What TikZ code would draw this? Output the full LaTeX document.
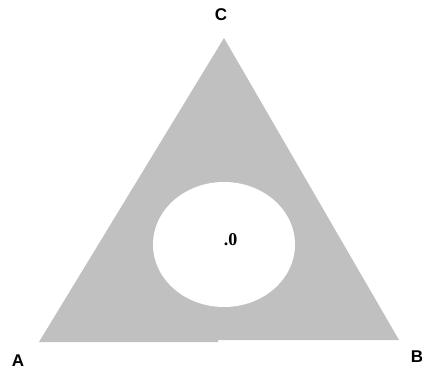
\documentclass[tikz,border=0pt]{standalone}
\usepackage{fontspec}
\setmainfont{Liberation Serif}
\newfontfamily\labelfont{Liberation Sans}
\definecolor{fillgray}{HTML}{C0C0C0}
\begin{document}
\begin{tikzpicture}[x=1pt,y=1pt,
  vlabel/.style={font=\labelfont\bfseries\fontsize{17}{17}\selectfont, inner sep=0pt},
  clabel/.style={font=\bfseries\fontsize{18}{18}\selectfont, inner sep=0pt}]
\useasboundingbox (0,0) rectangle (422,373);
\fill[white] (0,0) rectangle (422,373);
% triangle (y flipped: 373 - y)
\coordinate (pA) at (39,31);
\coordinate (pS1) at (218,31);
\coordinate (pS2) at (218,33);
\coordinate (pB) at (399,33);
\coordinate (pC) at (224,335);
\fill[fillgray] (pA) -- (pS1) -- (pS2) -- (pB) -- (pC) -- cycle;
% hole
\fill[white] (224,128.5) ellipse [x radius=71, y radius=62.5];
% labels
\node[vlabel] (A) at (18,12) {A};
\node[vlabel] (B) at (417,16.5) {B};
\node[vlabel] (C) at (221,358) {C};
\node[clabel] (O) at (230.5,133) {.0};
\end{tikzpicture}
\end{document}
